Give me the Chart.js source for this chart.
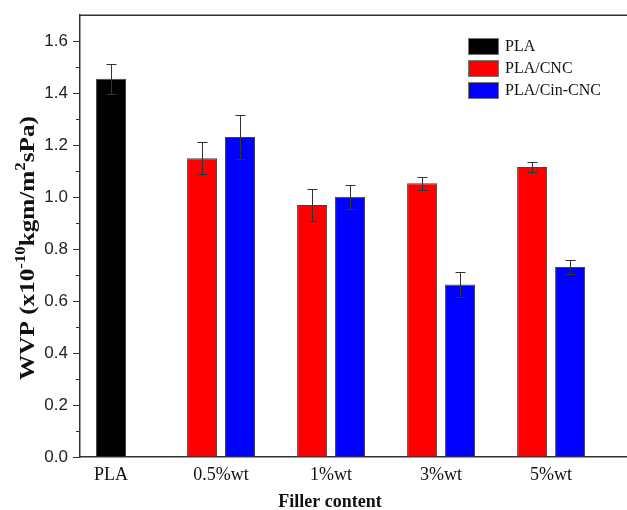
<!DOCTYPE html>
<html>
<head>
<meta charset="utf-8">
<script src="https://cdn.jsdelivr.net/npm/chart.js@4.4.1/dist/chart.umd.min.js"></script>
<style>
  body { margin: 0; background: #fff; }
</style>
</head>
<body>
<canvas id="wvpChart" width="627" height="510"></canvas>
<script>
// data
const categories = ['PLA', '0.5%wt', '1%wt', '3%wt', '5%wt'];
const plaVals = [1.455, null, null, null, null];
const plaErr  = [0.058, null, null, null, null];
const cncVals = [null, 1.150, 0.970, 1.053, 1.116];
const cncErr  = [null, 0.062, 0.060, 0.026, 0.020];
const cinVals = [null, 1.231, 1.001, 0.664, 0.731];
const cinErr  = [null, 0.086, 0.045, 0.047, 0.028];
const yTicks = [0, 0.2, 0.4, 0.6, 0.8, 1.0, 1.2, 1.4, 1.6];

const serif = '"Liberation Serif", "Times New Roman", serif';
const sans = '"Liberation Sans", Arial, sans-serif';

const points = vals => vals.map((v, i) => ({ x: i, y: v }));

const extras = {
  id: 'extras',
  afterDraw(chart) {
    const { ctx, chartArea: a, scales: { y } } = chart;
    ctx.save();

    // top frame line
    ctx.strokeStyle = '#333';
    ctx.lineWidth = 1.5;
    ctx.beginPath();
    ctx.moveTo(a.left, a.top);
    ctx.lineTo(a.right, a.top);
    ctx.stroke();

    // minor ticks half way between the major ones
    ctx.lineWidth = 1;
    for (let i = 0; i < y.ticks.length - 1; i++) {
      const py = Math.round(y.getPixelForValue((y.ticks[i].value + y.ticks[i + 1].value) / 2)) + 0.5;
      ctx.beginPath();
      ctx.moveTo(a.left - 4, py);
      ctx.lineTo(a.left, py);
      ctx.stroke();
    }

    // error bars
    ctx.strokeStyle = '#333';
    chart.data.datasets.forEach((ds, di) => {
      const meta = chart.getDatasetMeta(di);
      meta.data.forEach((bar, i) => {
        const v = ds.data[i].y, e = ds.errors[i];
        if (v == null || e == null) return;
        const cx = Math.round(bar.x) + 0.5;
        const t = Math.round(y.getPixelForValue(v + e)) + 0.5;
        const b = Math.round(y.getPixelForValue(v - e)) + 0.5;
        ctx.beginPath();
        ctx.moveTo(cx, t); ctx.lineTo(cx, b);
        ctx.moveTo(cx - 5, t); ctx.lineTo(cx + 5, t);
        ctx.moveTo(cx - 5, b); ctx.lineTo(cx + 5, b);
        ctx.stroke();
      });
    });

    // legend inside the plot
    ctx.font = '16px ' + serif;
    ctx.textBaseline = 'middle';
    ctx.textAlign = 'left';
    chart.data.datasets.forEach((ds, i) => {
      const top = 38 + i * 22;
      ctx.fillStyle = ds.backgroundColor;
      ctx.fillRect(468, top, 30, 16);
      ctx.strokeStyle = '#777';
      ctx.strokeRect(468.5, top + 0.5, 30, 16);
      ctx.fillStyle = '#111';
      ctx.fillText(ds.label, 505, top + 9);
    });

    // y title with superscripts (slightly stretched like the original)
    ctx.translate(26, 248);
    ctx.rotate(-Math.PI / 2);
    ctx.scale(1.2, 1);
    const parts = [
      ['WVP (x10', false], ['-10', true], ['kgm/m', false], ['2', true], ['sPa)', false]
    ];
    const big = 'bold 21px ' + serif, small = 'bold 14px ' + serif;
    let total = 0;
    parts.forEach(([s, sup]) => { ctx.font = sup ? small : big; total += ctx.measureText(s).width; });
    let u = -total / 2;
    ctx.textBaseline = 'alphabetic';
    ctx.fillStyle = '#111';
    parts.forEach(([s, sup]) => {
      ctx.font = sup ? small : big;
      ctx.fillText(s, u, sup ? -1 : 8);
      u += ctx.measureText(s).width;
    });
    ctx.setTransform(1, 0, 0, 1, 0, 0);

    // x title
    ctx.font = 'bold 18px ' + serif;
    ctx.textAlign = 'center';
    ctx.fillText('Filler content', 330, 507);

    ctx.restore();
  }
};

new Chart(document.getElementById('wvpChart'), {
  type: 'bar',
  data: {
    datasets: [
      { label: 'PLA', data: points(plaVals), errors: plaErr, backgroundColor: '#000000' },
      { label: 'PLA/CNC', data: points(cncVals), errors: cncErr, backgroundColor: '#ff0000' },
      { label: 'PLA/Cin-CNC', data: points(cinVals), errors: cinErr, backgroundColor: '#0000ff' }
    ]
  },
  options: {
    responsive: false,
    animation: false,
    skipNull: true,
    categoryPercentage: 0.69,
    barPercentage: 0.8,
    maxBarThickness: 30,
    borderColor: '#444',
    borderWidth: 1,
    layout: { padding: { left: 0, top: 14, right: 0, bottom: 0 } },
    plugins: { legend: { display: false }, tooltip: { enabled: false } },
    scales: {
      x: {
        type: 'linear',
        offset: false,
        min: -0.282,
        max: 4.69,
        afterBuildTicks: s => { s.ticks = categories.map((c, i) => ({ value: i })); },
        afterFit: s => { s.height = 53; },
        grid: { display: false, drawTicks: false, offset: false },
        border: { display: true, color: '#333', width: 1.5 },
        ticks: {
          padding: 7,
          autoSkip: false,
          maxRotation: 0,
          color: '#111',
          font: { family: serif, size: 18 },
          callback: v => categories[v]
        }
      },
      y: {
        min: 0,
        max: 1.7,
        afterBuildTicks: s => { s.ticks = yTicks.map(v => ({ value: v })); },
        afterFit: s => { s.width = 80; },
        grid: { drawOnChartArea: false, tickLength: 7, color: '#333' },
        border: { display: true, color: '#333', width: 1.5 },
        ticks: {
          padding: 5,
          color: '#222',
          font: { family: sans, size: 17 },
          callback: v => v.toFixed(1)
        }
      }
    }
  },
  plugins: [extras]
});
</script>
</body>
</html>
